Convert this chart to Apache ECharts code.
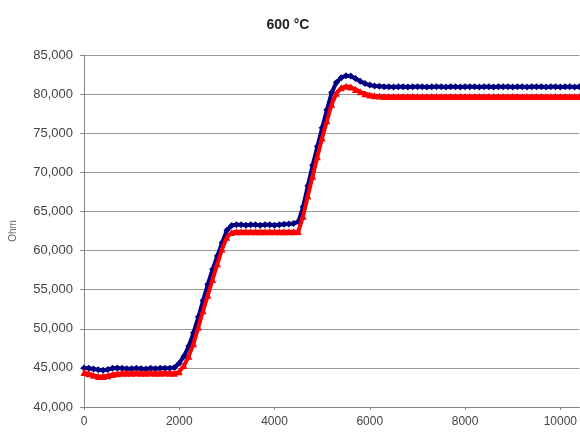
<!DOCTYPE html>
<html>
<head>
<meta charset="utf-8">
<script src="https://cdn.jsdelivr.net/npm/echarts@6/dist/echarts.min.js"></script>
<style>
html,body{margin:0;padding:0;background:#fff;}
#c{width:580px;height:432px;}
</style>
</head>
<body>
<div id="c"></div>
<script>
var titleText = '600 °C';
var yName = 'Ohm';
var xTicks = [0,2000,4000,6000,8000,10000];
var xValues = [0,100,200,300,400,500,600,700,800,900,
1000,1100,1200,1300,1400,1500,1600,1700,1800,1900,
2000,2100,2200,2300,2400,2500,2600,2700,2800,2900,
3000,3100,3200,3300,3400,3500,3600,3700,3800,3900,
4000,4100,4200,4300,4400,4500,4600,4700,4800,4900,
5000,5100,5200,5300,5400,5500,5600,5700,5800,5900,
6000,6100,6200,6300,6400,6500,6600,6700,6800,6900,
7000,7100,7200,7300,7400,7500,7600,7700,7800,7900,
8000,8100,8200,8300,8400,8500,8600,8700,8800,8900,
9000,9100,9200,9300,9400,9500,9600,9700,9800,9900,
10000,10100,10200,10300,10400];
var blueValues = [45000,44950,44850,44750,44700,44800,44950,45000,44950,44900,
44900,44950,44900,44850,44950,44900,44950,44950,44950,45050,
45600,46500,47800,49500,51500,53600,55700,57600,59300,61000,
62600,63200,63300,63300,63250,63300,63300,63250,63300,63300,
63250,63300,63350,63400,63450,63700,65600,68300,70900,73300,
75700,78000,80200,81500,82100,82350,82300,82000,81650,81350,
81150,81050,81000,80950,80950,80900,80950,80950,80900,80950,
80950,80950,80900,80950,80950,80950,80900,80950,80950,80900,
80950,80950,80950,80900,80950,80950,80900,80950,80950,80950,
80900,80950,80950,80900,80950,80950,80950,80900,80950,80950,
80900,80950,80950,80900,80950];
var redValues = [44400,44250,44050,43900,43900,44000,44150,44250,44300,44300,
44300,44350,44300,44300,44350,44300,44300,44350,44300,44300,
44500,45300,46500,48100,50200,52300,54300,56300,58300,60200,
61700,62300,62400,62400,62400,62400,62400,62400,62400,62400,
62400,62400,62400,62400,62400,62450,64400,67000,69500,72000,
74400,76600,78700,80100,80800,81000,80900,80600,80300,80050,
79900,79800,79750,79700,79700,79700,79700,79700,79700,79700,
79700,79700,79700,79700,79700,79700,79700,79700,79700,79700,
79700,79700,79700,79700,79700,79700,79700,79700,79700,79700,
79700,79700,79700,79700,79700,79700,79700,79700,79700,79700,
79700,79700,79700,79700,79700];

function pairs(xs, ys){ return xs.map(function(x,i){ return [x, ys[i]]; }); }

var chart = echarts.init(document.getElementById('c'), null, {renderer:'canvas'});
chart.setOption({
  animation:false,
  backgroundColor:'#ffffff',
  title:{
    text:titleText, left:283, top:13, textAlign:'center',
    textStyle:{fontFamily:'Liberation Sans, Arial, sans-serif', fontSize:14, fontWeight:'bold', color:'#222'}
  },
  grid:{left:84, top:55, bottom:25, right:0, containLabel:false},
  xAxis:{
    type:'value', min:0, max:10400,
    axisLine:{show:true, lineStyle:{color:'#888', width:1}},
    axisTick:{show:true, length:3, lineStyle:{color:'#888'}, customValues:xTicks},
    axisLabel:{margin:9, color:'#444', fontSize:12, fontFamily:'Liberation Sans, Arial, sans-serif',
      customValues:xTicks, formatter:function(v){ return String(v); }},
    splitLine:{show:false}
  },
  yAxis:{
    type:'value', min:40000, max:85000, interval:5000,
    name:yName, nameLocation:'middle', nameRotate:90, nameGap:66,
    nameTextStyle:{color:'#666', fontSize:10, fontFamily:'Liberation Sans, Arial, sans-serif'},
    axisLine:{show:true, lineStyle:{color:'#888', width:1}},
    axisTick:{show:true, length:4, lineStyle:{color:'#888'}},
    axisLabel:{margin:11, color:'#444', fontSize:13, fontFamily:'Liberation Sans, Arial, sans-serif',
      formatter:function(v){ return v.toLocaleString('en-US'); }},
    splitLine:{show:true, lineStyle:{color:'#999', width:1}}
  },
  series:[
    {type:'line', data:pairs(xValues, blueValues), symbol:'diamond', symbolSize:7,
     lineStyle:{color:'#000080', width:4}, itemStyle:{color:'#000080'}, z:2},
    {type:'line', data:pairs(xValues, redValues), symbol:'triangle', symbolSize:7,
     lineStyle:{color:'#ff0000', width:4}, itemStyle:{color:'#ff0000'}, z:3}
  ]
});
</script>
</body>
</html>
